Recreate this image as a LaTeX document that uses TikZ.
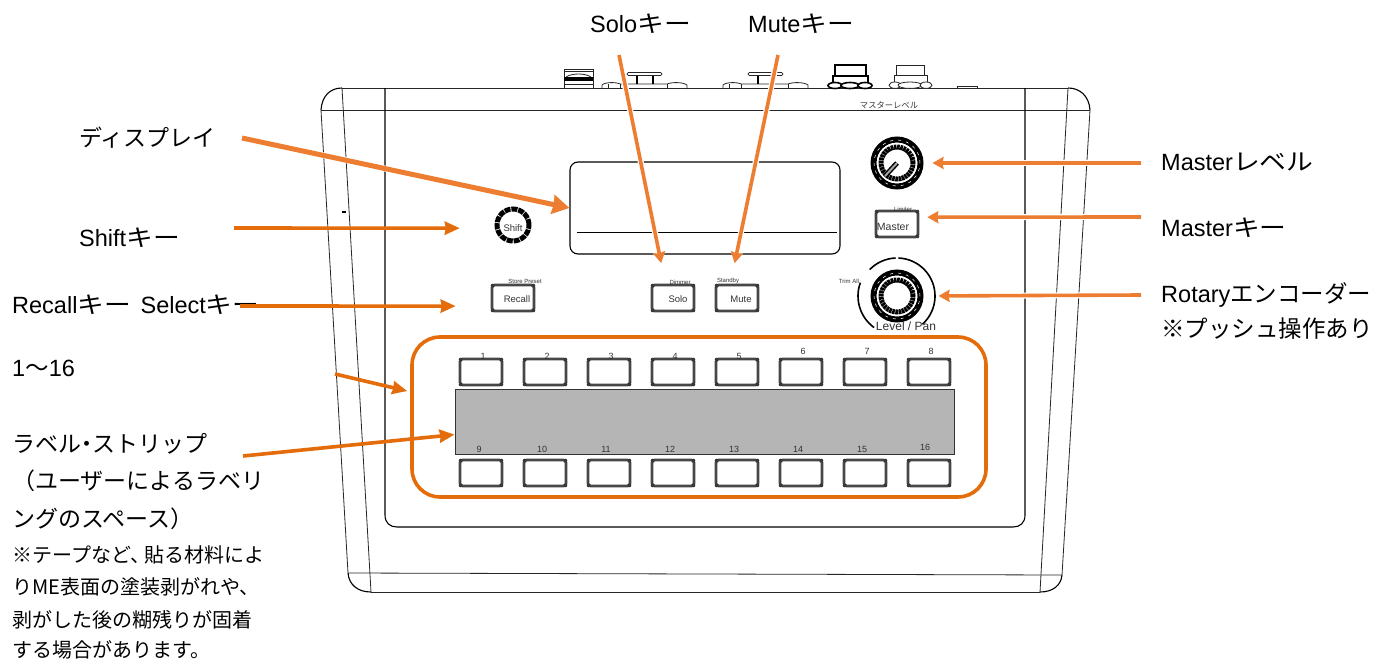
\documentclass[tikz,border=0pt]{standalone}
\usepackage{fontspec}
\setmainfont{Liberation Sans}
\newfontfamily\jpfont{Noto Sans CJK JP}
\newfontfamily\jpwide[FakeStretch=1.14]{Noto Sans CJK JP}
\newcommand{\jp}[1]{{\jpfont #1}}
\newcommand{\jw}[1]{{\jpwide #1}}
\definecolor{leadlight}{HTML}{ED7D31}
\definecolor{leaddark}{HTML}{E46C0A}
\usetikzlibrary{arrows.meta}
\tikzset{
  bodyline/.style={line width=0.8pt, black!85},
  paneltext/.style={inner sep=0pt, text=black!80},
  labeltext/.style={anchor=west, inner sep=0pt, font=\fontsize{23.5}{23.5}\selectfont},
  notetext/.style={anchor=west, inner sep=0pt, font=\fontsize{20}{20}\selectfont},
  panelkey/.style={draw=black!72, line width=2.6pt, rounded corners=2.5pt, inner sep=0pt, minimum width=42pt, minimum height=26pt},
  leadlightline/.style={leadlight, line width=3.6pt, preaction={draw=white, line width=6pt}, -{Stealth[length=11pt, width=12pt, inset=1pt]}},
  leaddarkline/.style={leaddark, line width=3.6pt, -{Stealth[length=15pt, width=13pt, inset=1pt]}},
}
\begin{document}
\begin{tikzpicture}[x=1pt, y=-1pt]
  \useasboundingbox (0,0) rectangle (1380,661);

  % body outline
  \draw[bodyline] (342,88) -- (1068,88);
  \draw[bodyline] (321,110) -- (1090,110);
  \draw[bodyline] (348,573) -- (1062,575);
  \draw[bodyline] (371,592) -- (1040,592);
  \draw[bodyline] (321,110) -- (348,573);
  \draw[bodyline] (342,88) -- (371,592);
  \draw[bodyline] (1068,88) -- (1040,592);
  \draw[bodyline] (1090,110) -- (1062,575);
  \draw[line width=1.1pt] (321,110) .. controls (322,96) and (330,88) .. (342,88);
  \draw[line width=1.1pt] (1068,88) .. controls (1080,88) and (1089,96) .. (1090,110);
  \draw[line width=1.1pt] (348,573) .. controls (349,585) and (358,592) .. (371,592);
  \draw[line width=1.1pt] (1040,592) .. controls (1052,592) and (1061,586) .. (1062,575);
  \draw[line width=1.1pt] (385,88) -- (385,515) .. controls (385,523) and (390,527) .. (397,527) -- (1013,527) .. controls (1020,527) and (1025,523) .. (1025,515) -- (1025,88);
  \fill (342,211) rectangle (346,213);

  % connectors on the top edge
  \draw[bodyline] (564,89) -- (564,69) -- (593,69) -- (593,89);
  \draw[bodyline] (564,71) -- (593,71);
  \draw[bodyline] (566,77) .. controls (572,73) and (585,73) .. (591,77);
  \fill (564,77) rectangle (593,81);
  \draw[bodyline] (564,84) -- (593,84);
  \foreach \x in {602,723} {
    \draw[bodyline] (\x,89) -- (\x,85) .. controls (\x+3,82) and (\x+14,82) .. (\x+18,84) -- (\x+65,84) .. controls (\x+70,82) and (\x+81,82) .. (\x+85,85) -- (\x+85,89);
    \draw[bodyline] (\x+6,89) -- (\x+6,84);
    \draw[bodyline] (\x+18,89) -- (\x+18,84);
    \draw[bodyline] (\x+65,89) -- (\x+65,84);
    \draw[line width=1.1pt] (\x+35,84) -- (\x+35,75);
    \draw[line width=1.1pt] (\x+51,84) -- (\x+51,75);
    \draw[bodyline, fill=white, rounded corners=1.4pt] (\x+25,72.5) rectangle (\x+60,75.5);
    \draw[bodyline] (\x+35,75.5) -- (\x+51,75.5);
  }
  \draw[line width=1.2pt] (835,76) -- (835,65) -- (866,65) -- (866,76);
  \draw[line width=1.2pt] (833,82) -- (833,76) -- (868,76) -- (868,82);
  \foreach \x/\r in {835/7,850/9,865/7} {
    \draw[line width=1.6pt, fill=white] (\x,85.5) ellipse ({\r pt} and 3pt);
  }
  \draw[bodyline] (896,75) -- (896,65) -- (924,65) -- (924,75);
  \draw[bodyline] (894,82) -- (894,75) -- (927,75) -- (927,82);
  \foreach \x/\r in {895/6,910/12,926/6} {
    \draw[bodyline, fill=white] (\x,85.2) ellipse ({\r pt} and 3.2pt);
  }
  \draw[bodyline] (957,89) -- (957,86) -- (977,86) -- (977,89);
  \node[paneltext, font=\jpfont\fontsize{8.3}{8.3}\selectfont] (masterlevelname) at (889,105) {マスターレベル};

  % display
  \node[draw, line width=1.1pt, rounded corners=8pt, minimum width=270pt, minimum height=92pt, inner sep=0pt] (display) at (705,208) {};
  \draw[line width=0.9pt] (577,232) -- (837,232);

  % knobs
  \node[circle, draw=black, line width=2pt, minimum size=51pt, inner sep=0pt] (masterknob) at (897,163) {};
  \node[circle, draw=black, line width=2pt, minimum size=51pt, inner sep=0pt] (rotaryknob) at (897,296) {};
  \foreach \cx/\cy in {897/163, 897/296} {
    \draw[line width=5pt] (\cx,\cy) circle (23pt);
    \draw[white, line width=0.5pt, dash pattern=on 3pt off 5pt] (\cx,\cy) circle (23pt);
    \draw[white, line width=1.2pt] (\cx,\cy) circle (19.6pt);
    \draw[line width=5pt, dash pattern=on 2.6pt off 0.6pt] (\cx,\cy) circle (16pt);
  }
  \draw[black, line width=5pt] (897,163) -- (885,176);
  \draw[black!35, line width=2pt] (897,163) -- (885,176);
  \draw[line width=1.6pt] (897,296) ++(136:38pt) arc[start angle=136, end angle=92, radius=38pt];
  \draw[line width=1.6pt] (897,296) ++(88:38pt) arc[start angle=88, end angle=-48, radius=38pt];
  \draw[line width=1.6pt] (897,296) ++(160:39pt) arc[start angle=160, end angle=234, radius=39pt];
  \node[circle, draw=black, line width=5pt, dash pattern=on 6pt off 0.9pt, minimum size=32pt, inner sep=0pt] (shiftknob) at (513,225) {};

  % function keys
  \node[paneltext, font=\fontsize{10.5}{10.5}\selectfont] (mastername) at (893,227) {Master};
  \node[panelkey] (masterkey) at (897,224) {};
  \node[panelkey] (recallkey) at (513,298) {};
  \node[panelkey] (solokey) at (673,298) {};
  \node[panelkey] (mutekey) at (737,298) {};
  \node[paneltext, font=\fontsize{9.5}{9.5}\selectfont] (recallname) at (517,299) {Recall};
  \node[paneltext, font=\fontsize{9.5}{9.5}\selectfont] (soloname) at (678,299) {Solo};
  \node[paneltext, font=\fontsize{9.5}{9.5}\selectfont] (mutename) at (741,299) {Mute};
  \node[paneltext, font=\fontsize{9.5}{9.5}\selectfont] (shiftname) at (513,228) {Shift};
  \node[paneltext, font=\fontsize{6}{6}\selectfont] (presetname) at (525,281) {Store Preset};
  \node[paneltext, font=\fontsize{6}{6}\selectfont] (dimmername) at (680,282) {Dimmer};
  \node[paneltext, font=\fontsize{6}{6}\selectfont] (standbyname) at (728,281) {Standby};
  \node[paneltext, font=\fontsize{6}{6}\selectfont] (limitername) at (903,209) {Limiter};
  \node[paneltext, font=\fontsize{6}{6}\selectfont] (trimname) at (849,281) {Trim All};
  \node[paneltext, font=\fontsize{12}{12}\selectfont] (levelname) at (906,326) {Level / Pan};

  % label strip and numbered keys
  \node[draw=black!80, fill=black!29, line width=0.9pt, minimum width=499pt, minimum height=65pt, inner sep=0pt] (labelstrip) at (704.5,421.5) {};
  \foreach \n/\x/\ly in {1/481/356, 2/545/356, 3/609/356, 4/673/356, 5/737/356, 6/801/351, 7/865/351, 8/929/351} {
    \node[panelkey] (key\n) at (\x,372) {};
    \node[paneltext, font=\fontsize{9}{9}\selectfont] (num\n) at (\x+2,\ly) {\n};
  }
  \foreach \n/\x/\lx/\ly in {9/481/479/449, 10/545/542/449, 11/609/606/449, 12/673/670/449, 13/737/734/449, 14/801/798/449, 15/865/862/449, 16/929/925/447} {
    \node[panelkey] (key\n) at (\x,473) {};
    \node[paneltext, font=\fontsize{9}{9}\selectfont] (num\n) at (\lx,\ly) {\n};
  }
  % dots on the key corners
  \foreach \k in {masterkey,recallkey,solokey,mutekey,key1,key2,key3,key4,key5,key6,key7,key8,key9,key10,key11,key12,key13,key14,key15,key16} {
    \foreach \a/\dx/\dy in {north west/2/2, north east/-2/2, south west/2/-2, south east/-2/-2} {
      \fill[black!78] (\k.\a) ++(\dx,\dy) circle (2pt);
    }
  }
  \node[draw=leaddark, line width=3.6pt, rounded corners=28pt, minimum width=574pt, minimum height=160pt, inner sep=0pt] (keygroup) at (699,417) {};

  % labels
  \node[labeltext] (sololabel) at (590,24) {Solo\jw{キー}};
  \node[labeltext] (mutelabel) at (748,24) {Mute\jw{キー}};
  \node[labeltext, font=\fontsize{23}{23}\selectfont] (displaylabel) at (79,138) {\jp{ディスプレイ}};
  \node[labeltext] (shiftlabel) at (79,238) {Shift\jw{キー}};
  \node[labeltext] (recalllabel) at (12,305) {Recall\jw{キー}\hspace{3pt} Select\jw{キー}\hspace{3pt}};
  \node[labeltext] (rangelabel) at (12,368) {1\jp{〜}16};
  \node[labeltext, font=\fontsize{23}{23}\selectfont] (striplabel) at (12,444) {\jp{ラベル\hspace{-6pt}・\hspace{-6pt}ストリップ}};
  \node[labeltext, font=\fontsize{23}{23}\selectfont] (stripnotea) at (12,481) {\jp{（ユーザーによるラベリ}};
  \node[labeltext, font=\fontsize{23}{23}\selectfont] (stripnoteb) at (12,519) {\jp{ングのスペース）}};
  \node[notetext] (cautiona) at (12,555) {\jp{※テープなど、\hspace{-6pt}貼る材料によ}};
  \node[notetext] (cautionb) at (12,587) {\jp{りME表面の塗装剥がれや、}};
  \node[notetext] (cautionc) at (12,620) {\jp{剥がした後の糊残りが固着}};
  \node[notetext] (cautiond) at (12,650) {\jp{する場合があります。}};
  \node[labeltext] (masterlevellabel) at (1161,162) {Master\jw{レベル}};
  \node[labeltext] (masterkeylabel) at (1161,228) {Master\jw{キー}};
  \node[labeltext] (rotarylabel) at (1161,295) {Rotary\jp{エンコーダー}};
  \node[labeltext, font=\fontsize{23.5}{23.5}\selectfont] (pushlabel) at (1161,329) {\jp{※プッシュ操作あり}};

  % leader lines
  \coordinate (displaytail) at (242,138);
  \coordinate (solotail) at (619,55);
  \coordinate (mutetail) at (778,55);
  \coordinate (leveltail) at (1141,163);
  \coordinate (mastertail) at (1141,217);
  \coordinate (rotarytail) at (1141,295);
  \coordinate (shifttail) at (234,228);
  \coordinate (recalltail) at (240,306);
  \coordinate (rangetail) at (335,374);
  \coordinate (striptail) at (243,456);
  \draw[leadlightline, line width=5pt, -{Stealth[length=17pt, width=19pt, inset=1pt]}] (displaytail) -- (display.west);
  \draw[leadlightline, shorten >=21pt] (solotail) -- (solokey.118);
  \draw[leadlightline, shorten >=21pt] (mutetail) -- (mutekey.115);
  \draw[leadlightline, shorten >=9pt] (leveltail) -- (masterknob.east);
  \draw[leadlightline, shorten >=8pt] (mastertail) -- (masterkey.17);
  \draw[leadlightline, shorten >=15pt] (rotarytail) -- (rotaryknob.east);
  \draw[leaddarkline, shorten >=35pt] (shifttail) -- (shiftknob.190);
  \draw[leaddarkline, shorten >=35pt] (recalltail) -- (recallkey.200);
  \draw[leaddarkline, shorten >=3pt] (rangetail) -- (keygroup.175);
  \draw[leaddarkline] (striptail) -- (labelstrip.183.3);
\end{tikzpicture}
\end{document}
